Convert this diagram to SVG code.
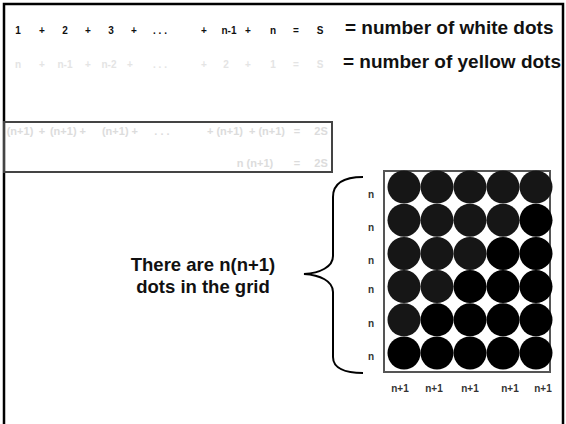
<svg xmlns="http://www.w3.org/2000/svg" width="566" height="424" viewBox="0 0 566 424">
<style>
text{font-family:"Liberation Sans",Arial,sans-serif;font-weight:bold}
.s{font-size:10px;fill:#111;text-anchor:middle}
.y{font-size:10px;fill:#e4e4e4;text-anchor:middle}
.b{font-size:11px;fill:#dcdcdc;text-anchor:middle}
.big{font-size:19px;fill:#111}
.cap{font-size:18.5px;fill:#111;text-anchor:middle}
.lab{font-size:10px;fill:#333;text-anchor:middle}
.w{fill:#161616}
.k{fill:#000}
</style>
<rect id="frame" x="4" y="4" width="559" height="440" fill="#fff" stroke="#000" stroke-width="2.5"/>
<g id="row-white">
<text class="s" x="18" y="34">1</text><text class="s" x="42" y="34">+</text><text class="s" x="65" y="34">2</text><text class="s" x="88" y="34">+</text><text class="s" x="111" y="34">3</text><text class="s" x="134" y="34">+</text><text class="s" x="160" y="34">. . .</text><text class="s" x="204" y="34">+</text><text class="s" x="229" y="34">n-1</text><text class="s" x="248" y="34">+</text><text class="s" x="273" y="34">n</text><text class="s" x="296" y="34">=</text><text class="s" x="320" y="34">S</text>
<text class="big" x="345" y="34">= number of white dots</text>
</g>
<g id="row-yellow">
<text class="y" x="18" y="68">n</text><text class="y" x="42" y="68">+</text><text class="y" x="65" y="68">n-1</text><text class="y" x="88" y="68">+</text><text class="y" x="109" y="68">n-2</text><text class="y" x="130" y="68">+</text><text class="y" x="160" y="68">. . .</text><text class="y" x="204" y="68">+</text><text class="y" x="226" y="68">2</text><text class="y" x="248" y="68">+</text><text class="y" x="273" y="68">1</text><text class="y" x="296" y="68">=</text><text class="y" x="320" y="68">S</text>
<text class="big" x="343" y="68">= number of yellow dots</text>
</g>
<g id="sum-box">
<rect x="4" y="122" width="328" height="50" fill="none" stroke="#444" stroke-width="2"/>
<text class="b" x="20" y="135">(n+1)</text><text class="b" x="42" y="135">+</text><text class="b" x="68" y="135">(n+1) +</text><text class="b" x="120" y="135">(n+1) +</text><text class="b" x="162" y="135">. . .</text><text class="b" x="225" y="135">+ (n+1)</text><text class="b" x="267" y="135">+ (n+1)</text><text class="b" x="297" y="135">=</text><text class="b" x="321" y="135">2S</text>
<text class="b" x="255" y="167">n (n+1)</text><text class="b" x="297" y="167">=</text><text class="b" x="321" y="167">2S</text>
</g>
<g id="caption">
<text class="cap" x="203" y="271">There are n(n+1)</text>
<text class="cap" x="203" y="293">dots in the grid</text>
</g>
<g id="connectors">
<path d="M363,177 C345,177 333,182 333,197 L333,256 C333,267 320,273 304,274 C320,275 333,281 333,292 L333,357 C333,368 345,373 363,373" fill="none" stroke="#000" stroke-width="2"/>
</g>
<g id="grid">
<rect x="384" y="171" width="166" height="201" fill="#fff" stroke="#555" stroke-width="2"/>
<circle class="w" cx="404" cy="187" r="16.5"/><circle class="w" cx="437" cy="187" r="16.5"/><circle class="w" cx="470" cy="187" r="16.5"/><circle class="w" cx="503" cy="187" r="16.5"/><circle class="w" cx="536" cy="187" r="16.5"/>
<circle class="w" cx="404" cy="220.2" r="16.5"/><circle class="w" cx="437" cy="220.2" r="16.5"/><circle class="w" cx="470" cy="220.2" r="16.5"/><circle class="w" cx="503" cy="220.2" r="16.5"/><circle class="k" cx="536" cy="220.2" r="16.5"/>
<circle class="w" cx="404" cy="253.4" r="16.5"/><circle class="w" cx="437" cy="253.4" r="16.5"/><circle class="w" cx="470" cy="253.4" r="16.5"/><circle class="k" cx="503" cy="253.4" r="16.5"/><circle class="k" cx="536" cy="253.4" r="16.5"/>
<circle class="w" cx="404" cy="286.6" r="16.5"/><circle class="w" cx="437" cy="286.6" r="16.5"/><circle class="k" cx="470" cy="286.6" r="16.5"/><circle class="k" cx="503" cy="286.6" r="16.5"/><circle class="k" cx="536" cy="286.6" r="16.5"/>
<circle class="w" cx="404" cy="319.8" r="16.5"/><circle class="k" cx="437" cy="319.8" r="16.5"/><circle class="k" cx="470" cy="319.8" r="16.5"/><circle class="k" cx="503" cy="319.8" r="16.5"/><circle class="k" cx="536" cy="319.8" r="16.5"/>
<circle class="k" cx="404" cy="353" r="16.5"/><circle class="k" cx="437" cy="353" r="16.5"/><circle class="k" cx="470" cy="353" r="16.5"/><circle class="k" cx="503" cy="353" r="16.5"/><circle class="k" cx="536" cy="353" r="16.5"/>
</g>
<g id="row-labels">
<text class="lab" x="371" y="198">n</text><text class="lab" x="371" y="231">n</text><text class="lab" x="371" y="264">n</text><text class="lab" x="371" y="293">n</text><text class="lab" x="371" y="327">n</text><text class="lab" x="371" y="360">n</text>
</g>
<g id="col-labels">
<text class="lab" x="400" y="392">n+1</text><text class="lab" x="434" y="392">n+1</text><text class="lab" x="470" y="392">n+1</text><text class="lab" x="510" y="392">n+1</text><text class="lab" x="543" y="392">n+1</text>
</g>
</svg>
